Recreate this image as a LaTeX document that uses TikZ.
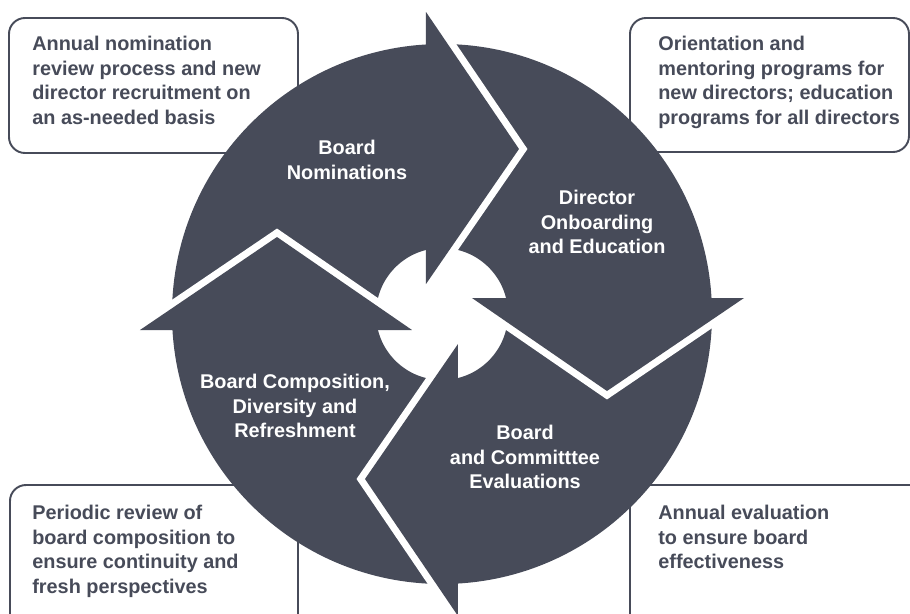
\documentclass[tikz,border=0pt]{standalone}
\usepackage{fontspec}
\setmainfont{Liberation Sans}
\usetikzlibrary{positioning}
\definecolor{slate}{HTML}{474B59}

\begin{document}
\begin{tikzpicture}[x=0.02cm, y=0.02cm,
    seg/.style={fill=slate},
    gapline/.style={draw=white, line width=2.8mm, line join=miter},
    infobox/.style={draw=slate, line width=1.1pt, fill=white, rounded corners=0.32cm},
    infotxt/.style={anchor=north west, inner sep=0pt, align=left, text=slate,
      font=\fontsize{11.3}{13.9}\selectfont\bfseries},
    segtxt/.style={inner sep=0pt, align=center, text=white,
      font=\fontsize{11.3}{13.9}\selectfont\bfseries}]
\useasboundingbox (-442,-299) rectangle (468,314);
\clip (-442,-299) rectangle (468,314);

%% corner boxes
\draw[infobox] (-433,296) rectangle (-144,161);
\draw[infobox] (188,296) rectangle (467,162);
\draw[infobox] (-432,-171) rectangle (-144,-330);
\draw[infobox] (188,-171) rectangle (500,-330);

\node[infotxt] (nomNote) at (-410,278)
  {Annual nomination\\review process and new\\director recruitment on\\an as-needed basis};
\node[infotxt] (eduNote) at (216,278)
  {Orientation and\\mentoring programs for\\new directors; education\\programs for all directors};
\node[infotxt] (compNote) at (-410,-191)
  {Periodic review of\\board composition to\\ensure continuity and\\fresh perspectives};
\node[infotxt] (evalNote) at (216,-191)
  {Annual evaluation\\to ensure board\\effectiveness};

%% ring
\fill[seg, even odd rule] (0,0) circle (270) (0,0) circle (66);

%% arrow heads, each one cuts a notch into the next segment
\foreach \r in {0,-90,-180,-270}{
  \begin{scope}[rotate=\r]
    \coordinate (hA) at (-302,-16);
    \coordinate (hT) at (-165,77);
    \coordinate (hB) at (-30,-16);
    \draw[gapline] (hA) -- (hT) -- (hB);
    \fill[seg] (hA) -- (hT) -- (hB) -- cycle;
  \end{scope}
}

%% segment labels
\node[segtxt] (nomTxt) at (-95,154) {Board\\Nominations};
\node[segtxt] (eduTxt) at (155,92) {Director\\Onboarding\\and Education};
\node[segtxt] (evalTxt) at (83,-143) {Board\\and Committtee\\Evaluations};
\node[segtxt] (compTxt) at (-147,-92) {Board Composition,\\Diversity and\\Refreshment};
\end{tikzpicture}
\end{document}
